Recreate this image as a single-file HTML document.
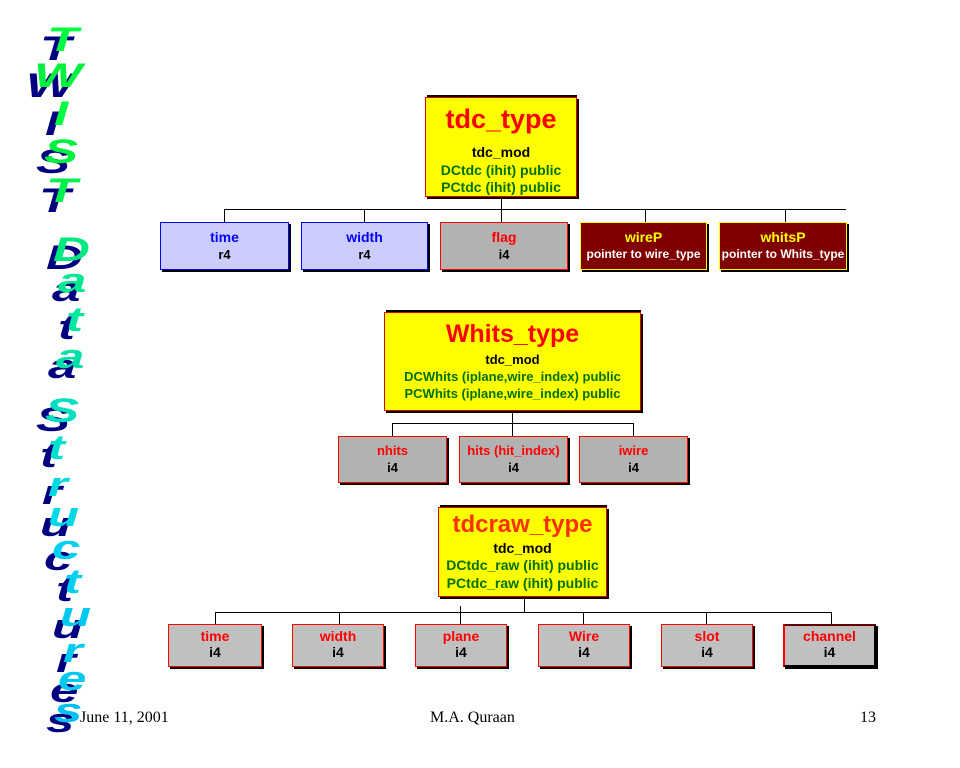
<!DOCTYPE html>
<html><head><meta charset="utf-8"><style>
body{margin:0;width:960px;height:768px;background:#fff;position:relative;overflow:hidden;font-family:"Liberation Sans",sans-serif;}
.b{position:absolute;box-sizing:border-box;text-align:center;font-weight:bold;box-shadow:2px 2px 0 #000;}
.l{position:absolute;background:#000;}
.t{position:absolute;left:0;right:0;text-align:center;white-space:nowrap;}
.L{position:absolute;font:italic bold 34px "Liberation Sans",sans-serif;line-height:1;transform:scaleX(1.5);transform-origin:0 0;}
.f{position:absolute;font:16px "Liberation Serif",serif;top:709px;}
</style></head><body>

<div class="L" style="left:40px;top:32px;color:#000080">T</div><div class="L" style="left:47px;top:23px;color:#00ff40">T</div>
<div class="L" style="left:26px;top:69px;color:#000080">W</div><div class="L" style="left:34px;top:59px;color:#00f040">W</div>
<div class="L" style="left:45px;top:107px;color:#000080">I</div><div class="L" style="left:54px;top:97px;color:#00ff40">I</div>
<div class="L" style="left:36px;top:145px;color:#000080">S</div><div class="L" style="left:44px;top:135px;color:#00f040">S</div>
<div class="L" style="left:39px;top:184px;color:#000080">T</div><div class="L" style="left:46px;top:174px;color:#00f050">T</div>
<div class="L" style="left:46px;top:241px;color:#000080">D</div><div class="L" style="left:53px;top:233px;color:#00e880">D</div>
<div class="L" style="left:52px;top:273px;color:#000080">a</div><div class="L" style="left:58px;top:264px;color:#00e890">a</div>
<div class="L" style="left:58px;top:311px;color:#000080">t</div><div class="L" style="left:66px;top:303px;color:#00e8a0">t</div>
<div class="L" style="left:48px;top:350px;color:#000080">a</div><div class="L" style="left:56px;top:340px;color:#00e0a8">a</div>
<div class="L" style="left:36px;top:403px;color:#000080">S</div><div class="L" style="left:45px;top:394px;color:#00e0c0">S</div>
<div class="L" style="left:40px;top:439px;color:#000080">t</div><div class="L" style="left:48px;top:431px;color:#00e0d0">t</div>
<div class="L" style="left:42px;top:476px;color:#000080">r</div><div class="L" style="left:48px;top:468px;color:#00d8e0">r</div>
<div class="L" style="left:40px;top:508px;color:#000080">u</div><div class="L" style="left:48px;top:498px;color:#00d8e8">u</div>
<div class="L" style="left:44px;top:542px;color:#000080">c</div><div class="L" style="left:52px;top:531px;color:#00d0f0">c</div>
<div class="L" style="left:56px;top:573px;color:#000080">t</div><div class="L" style="left:64px;top:565px;color:#00d0f0">t</div>
<div class="L" style="left:52px;top:610px;color:#000080">u</div><div class="L" style="left:60px;top:598px;color:#00c8f0">u</div>
<div class="L" style="left:56px;top:644px;color:#000080">r</div><div class="L" style="left:63px;top:634px;color:#00c8f0">r</div>
<div class="L" style="left:50px;top:674px;color:#000080">e</div><div class="L" style="left:58px;top:662px;color:#00c8f0">e</div>
<div class="L" style="left:46px;top:704px;color:#000080">s</div><div class="L" style="left:54px;top:694px;color:#00c0f0">s</div>

<!-- tdc_type -->
<div class="l" style="left:427px;top:95px;width:150px;height:2px"></div>
<div class="b" style="left:425px;top:97px;width:152px;height:100px;background:#ffff00;border:1px solid #e00000;">
<div class="t" style="top:6px;font-size:27px;color:#ff0000">tdc_type</div>
<div class="t" style="top:46px;font-size:14px;color:#000">tdc_mod</div>
<div class="t" style="top:64px;font-size:14px;color:#007000">DCtdc (ihit) public</div>
<div class="t" style="top:81px;font-size:14px;color:#007000">PCtdc (ihit) public</div>
</div>
<div class="l" style="left:501px;top:197px;width:1px;height:25px"></div>
<div class="l" style="left:224px;top:209px;width:622px;height:1px"></div>
<div class="l" style="left:224px;top:209px;width:1px;height:13px"></div>
<div class="l" style="left:364px;top:209px;width:1px;height:13px"></div>
<div class="l" style="left:645px;top:209px;width:1px;height:13px"></div>
<div class="l" style="left:785px;top:209px;width:1px;height:13px"></div>

<div class="b" style="left:160px;top:222px;width:129px;height:48px;background:#ccccff;border:1px solid #0000ff;"><div class="t" style="top:6px;font-size:14px;color:#0000ff">time</div><div class="t" style="top:24px;font-size:13px;color:#000">r4</div></div>
<div class="b" style="left:301px;top:222px;width:127px;height:48px;background:#ccccff;border:1px solid #0000ff;"><div class="t" style="top:6px;font-size:14px;color:#0000ff">width</div><div class="t" style="top:24px;font-size:13px;color:#000">r4</div></div>
<div class="b" style="left:440px;top:222px;width:128px;height:48px;background:#b2b2b2;border:1px solid #ff0000;"><div class="t" style="top:6px;font-size:14px;color:#ff0000">flag</div><div class="t" style="top:24px;font-size:13px;color:#000">i4</div></div>
<div class="b" style="left:580px;top:222px;width:127px;height:48px;background:#800000;border:1px solid #ffff00;"><div class="t" style="top:6px;font-size:14px;color:#ffff00">wireP</div><div class="t" style="top:24px;font-size:12px;color:#fff">pointer to wire_type</div></div>
<div class="b" style="left:719px;top:222px;width:128px;height:48px;background:#800000;border:1px solid #ffff00;"><div class="t" style="top:6px;font-size:14px;color:#ffff00">whitsP</div><div class="t" style="top:24px;font-size:12px;color:#fff">pointer to Whits_type</div></div>

<!-- Whits_type -->
<div class="l" style="left:386px;top:310px;width:255px;height:2px"></div>
<div class="b" style="left:384px;top:312px;width:257px;height:99px;background:#ffff00;border:1px solid #e00000;">
<div class="t" style="top:7px;font-size:25px;color:#ff0000">Whits_type</div>
<div class="t" style="top:39px;font-size:13px;color:#000">tdc_mod</div>
<div class="t" style="top:56px;font-size:13px;color:#007000">DCWhits (iplane,wire_index) public</div>
<div class="t" style="top:73px;font-size:13px;color:#007000">PCWhits (iplane,wire_index) public</div>
</div>
<div class="l" style="left:512px;top:411px;width:1px;height:25px"></div>
<div class="l" style="left:392px;top:423px;width:242px;height:1px"></div>
<div class="l" style="left:392px;top:423px;width:1px;height:13px"></div>
<div class="l" style="left:633px;top:423px;width:1px;height:13px"></div>

<div class="b" style="left:338px;top:436px;width:109px;height:47px;background:#b2b2b2;border:1px solid #ff0000;"><div class="t" style="top:6px;font-size:13px;color:#ff0000">nhits</div><div class="t" style="top:23px;font-size:13px;color:#000">i4</div></div>
<div class="b" style="left:459px;top:436px;width:109px;height:47px;background:#b2b2b2;border:1px solid #ff0000;"><div class="t" style="top:6px;font-size:13px;color:#ff0000">hits (hit_index)</div><div class="t" style="top:23px;font-size:13px;color:#000">i4</div></div>
<div class="b" style="left:579px;top:436px;width:109px;height:47px;background:#b2b2b2;border:1px solid #ff0000;"><div class="t" style="top:6px;font-size:13px;color:#ff0000">iwire</div><div class="t" style="top:23px;font-size:13px;color:#000">i4</div></div>

<!-- tdcraw_type -->
<div class="l" style="left:440px;top:505px;width:167px;height:2px"></div>
<div class="b" style="left:438px;top:507px;width:169px;height:90px;background:#ffff00;border:1px solid #e00000;">
<div class="t" style="top:3px;font-size:24px;color:#ff3000">tdcraw_type</div>
<div class="t" style="top:32px;font-size:14px;color:#000">tdc_mod</div>
<div class="t" style="top:49px;font-size:14px;color:#007000">DCtdc_raw (ihit) public</div>
<div class="t" style="top:67px;font-size:14px;color:#007000">PCtdc_raw (ihit) public</div>
</div>
<div class="l" style="left:524px;top:597px;width:1px;height:15px"></div>
<div class="l" style="left:215px;top:612px;width:617px;height:1px"></div>
<div class="l" style="left:215px;top:612px;width:1px;height:12px"></div>
<div class="l" style="left:339px;top:612px;width:1px;height:12px"></div>
<div class="l" style="left:460px;top:606px;width:1px;height:18px"></div>
<div class="l" style="left:583px;top:612px;width:1px;height:12px"></div>
<div class="l" style="left:706px;top:612px;width:1px;height:12px"></div>
<div class="l" style="left:831px;top:612px;width:1px;height:12px"></div>

<div class="b" style="left:168px;top:624px;width:94px;height:43px;background:#c0c0c0;border:1px solid #ff0000;"><div class="t" style="top:3px;font-size:14px;color:#ff0000">time</div><div class="t" style="top:19px;font-size:14px;color:#000">i4</div></div>
<div class="b" style="left:292px;top:624px;width:92px;height:43px;background:#c0c0c0;border:1px solid #ff0000;"><div class="t" style="top:3px;font-size:14px;color:#ff0000">width</div><div class="t" style="top:19px;font-size:14px;color:#000">i4</div></div>
<div class="b" style="left:415px;top:624px;width:92px;height:43px;background:#c0c0c0;border:1px solid #ff0000;"><div class="t" style="top:3px;font-size:14px;color:#ff0000">plane</div><div class="t" style="top:19px;font-size:14px;color:#000">i4</div></div>
<div class="b" style="left:538px;top:624px;width:92px;height:43px;background:#c0c0c0;border:1px solid #ff0000;"><div class="t" style="top:3px;font-size:14px;color:#ff0000">Wire</div><div class="t" style="top:19px;font-size:14px;color:#000">i4</div></div>
<div class="b" style="left:661px;top:624px;width:92px;height:43px;background:#c0c0c0;border:1px solid #ff0000;"><div class="t" style="top:3px;font-size:14px;color:#ff0000">slot</div><div class="t" style="top:19px;font-size:14px;color:#000">i4</div></div>
<div class="b" style="left:783px;top:624px;width:93px;height:43px;background:#c0c0c0;border:2px solid #000;border-left-color:#ff0000;border-top-color:#600;"><div class="t" style="top:2px;font-size:14px;color:#ff0000">channel</div><div class="t" style="top:18px;font-size:14px;color:#000">i4</div></div>

<div class="f" style="left:80px">June 11, 2001</div>
<div class="f" style="left:430px">M.A. Quraan</div>
<div class="f" style="left:860px">13</div>
</body></html>
